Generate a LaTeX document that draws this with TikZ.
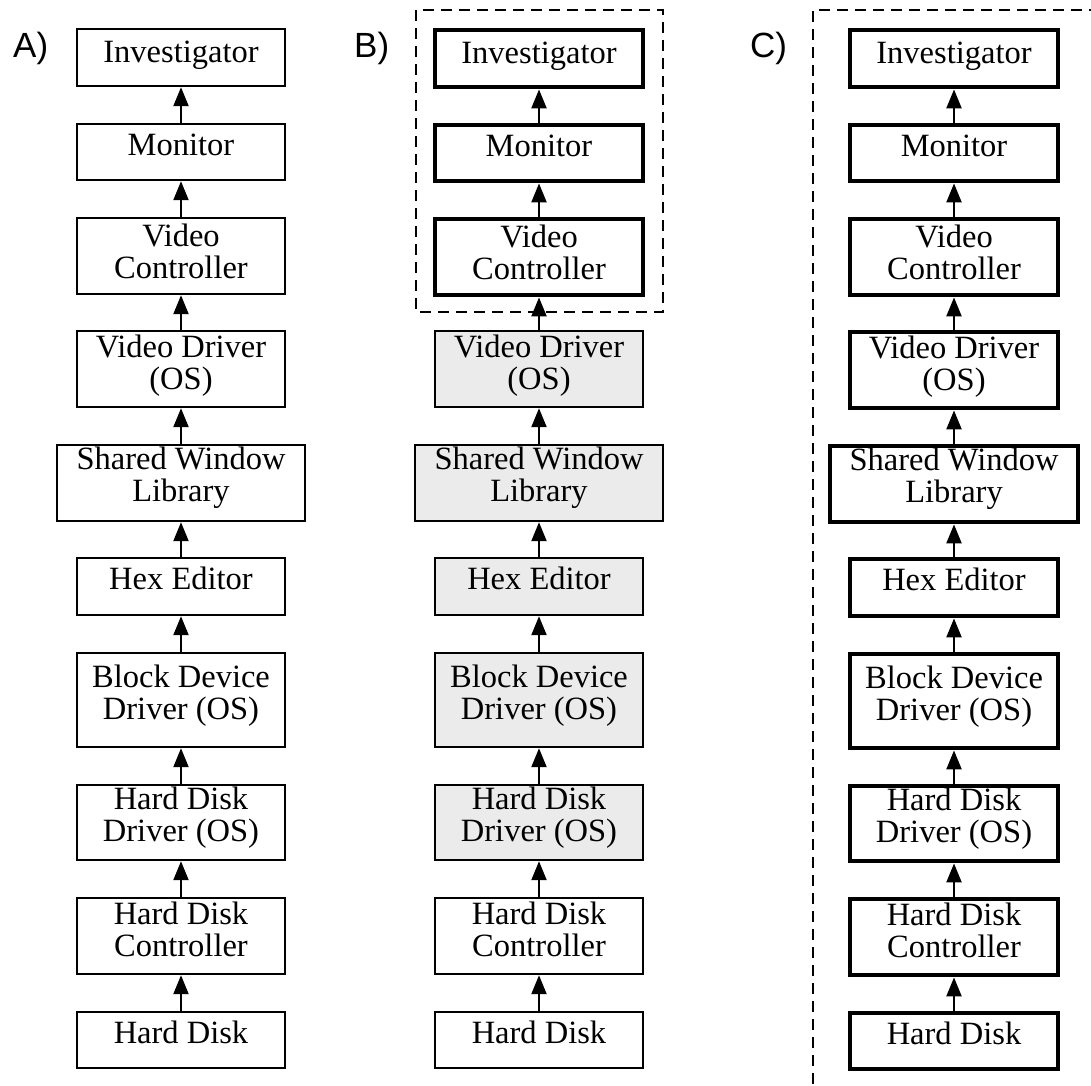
\documentclass[tikz,border=0pt]{standalone}
\usepackage{fontspec}
\setmainfont{Liberation Serif}
\newfontfamily\labelfont{Liberation Sans}
\usetikzlibrary{arrows.meta}
\definecolor{layergray}{RGB}{235,235,235}
% centred multi-line text whose baseline is its first line
\newcommand\twolines[1]{\begin{tabular}[t]{@{}c@{}}#1\end{tabular}}

\begin{document}
\begin{tikzpicture}[x=1pt,y=-1pt,
  layer/.style={draw, fill=white, line width=2.2pt, inner xsep=0pt, inner ysep=0pt,
    minimum width=208pt, anchor=north, font=\fontsize{32.5}{32}\selectfont},
  wide/.style={minimum width=248pt},
  thin/.style={line width=2.2pt},
  heavy/.style={line width=4.4pt},
  shaded/.style={fill=layergray},
  A top/.style={thin},  A mid/.style={thin},          A low/.style={thin},
  B top/.style={heavy}, B mid/.style={thin, shaded},  B low/.style={thin},
  C top/.style={heavy}, C mid/.style={heavy},         C low/.style={heavy},
  hd/.style 2 args={text height=#1pt, text depth=#2pt},
  flow/.style={line width=2.2pt, -{Triangle[length=19pt,width=15pt]}},
  region/.style={dash pattern=on 11pt off 7pt, line width=2pt},
  tag/.style={font=\labelfont\fontsize{35}{35}\selectfont, anchor=base west, inner sep=0pt}
]
\useasboundingbox (0,0) rectangle (1091,1085);

% the three stacks of layers
\foreach \L/\x in {A/181, B/539, C/954} {
  \node[layer, \L\space top, hd={33}{24}] (\L1) at (\x,28)   {Investigator};
  \node[layer, \L\space top, hd={31}{25}] (\L2) at (\x,123)  {Monitor};
  \node[layer, \L\space top, hd={28}{48}] (\L3) at (\x,217)  {\twolines{Video\\Controller}};
  \node[layer, \L\space mid, hd={26}{50}] (\L4) at (\x,330)  {\twolines{Video Driver\\(OS)}};
  \node[layer, \L\space mid, wide, hd={24}{52}] (\L5) at (\x,444) {\twolines{Shared Window\\Library}};
  \node[layer, \L\space mid, hd={31}{26}] (\L6) at (\x,557)  {Hex Editor};
  \node[layer, \L\space mid, hd={34}{60}] (\L7) at (\x,652)  {\twolines{Block Device\\Driver (OS)}};
  \node[layer, \L\space mid, hd={24}{51}] (\L8) at (\x,784)  {\twolines{Hard Disk\\Driver (OS)}};
  \node[layer, \L\space low, hd={26}{50}] (\L9) at (\x,897)  {\twolines{Hard Disk\\Controller}};
  \node[layer, \L\space low, hd={31}{25}] (\L10) at (\x,1011) {Hard Disk};
  % data flows upwards through the stack
  \foreach \i [evaluate=\i as \j using int(\i+1)] in {1,...,9}
    \draw[flow] (\L\j.north) -- (\L\i.south);
}

% dashed regions
\draw[region] (416,10) rectangle (663,312);
\draw[region] (1100,10) -- (813,10) -- (813,1100);

% panel tags
\node[tag] (tagA) at (13,57)  {A)};
\node[tag] (tagB) at (354,57) {B)};
\node[tag] (tagC) at (750,57) {C)};
\end{tikzpicture}
\end{document}
